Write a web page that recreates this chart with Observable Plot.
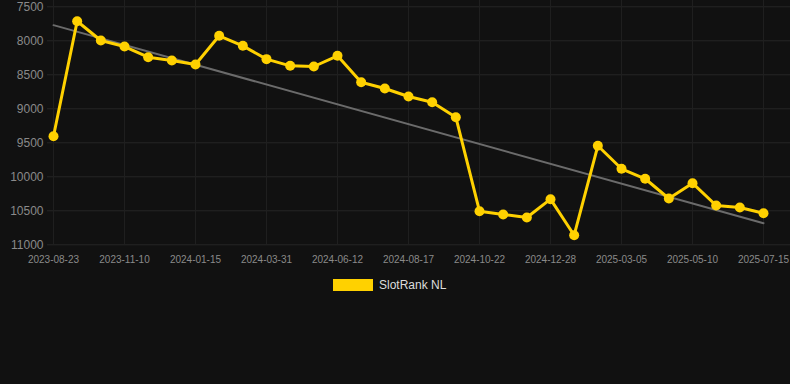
<!DOCTYPE html>
<html>
<head>
<meta charset="utf-8">
<script src="https://cdn.jsdelivr.net/npm/d3@7"></script>
<script src="https://cdn.jsdelivr.net/npm/@observablehq/plot@0.6"></script>
<style>
  html, body { margin: 0; padding: 0; background: #111111; }
  #wrap { position: relative; width: 790px; height: 384px; background: #111111; font-family: "Liberation Sans", Arial, Helvetica, sans-serif; }
  #legend { position: absolute; left: 333px; top: 278px; display: flex; align-items: center; }
  #legend .sw { width: 40px; height: 12px; background: #FFD100; }
  #legend .lb { margin-left: 6px; font-size: 12px; color: #dddddd; }
</style>
</head>
<body>
<div id="wrap">
  <div id="chart"></div>
  <div id="legend"><div class="sw"></div><div class="lb">SlotRank NL</div></div>
</div>
<script>
// Rank values (lower is better; axis reversed), one every ~3 weeks
const rankValues = [
  9403, 7712, 7996, 8084, 8241, 8290, 8349, 7926, 8074, 8270,
  8368, 8378, 8221, 8609, 8701, 8819, 8903, 9123, 10506, 10554,
  10598, 10329, 10859, 9544, 9882, 10029, 10319, 10094, 10422, 10451,
  10535
];
// Tick labels shown every third observation
const tickLabels = [
  "2023-08-23", "2023-11-10", "2024-01-15", "2024-03-31", "2024-06-12",
  "2024-08-17", "2024-10-22", "2024-12-28", "2025-03-05", "2025-05-10",
  "2025-07-15"
];
const yTicks = [7500, 8000, 8500, 9000, 9500, 10000, 10500, 11000];
// Trend line endpoints (first and last observation)
const trendValues = [7770, 10682];

const seriesName = "SlotRank NL";
const data = rankValues.map((v, i) => ({i, v, series: seriesName}));
const lastIndex = rankValues.length - 1;
const trend = [{i: 0, v: trendValues[0]}, {i: lastIndex, v: trendValues[1]}];
const xTicks = tickLabels.map((_, k) => k * 3);

const chart = Plot.plot({
  width: 790,
  height: 270,
  marginLeft: 47,
  marginRight: 0,
  marginTop: 0,
  marginBottom: 26,
  style: {background: "#111111", fontFamily: "'Liberation Sans', Arial, Helvetica, sans-serif"},
  x: {type: "linear", domain: [0, lastIndex], range: [53, 763]},
  y: {domain: [7500, 11000], range: [6.3, 244.3]},
  marks: [
    Plot.gridY(yTicks, {stroke: "#262626", strokeOpacity: 1, strokeWidth: 1}),
    Plot.gridX(xTicks, {stroke: "#1f1f1f", strokeOpacity: 1, strokeWidth: 1}),
    Plot.axisY(yTicks, {tickSize: 0, tickPadding: 4, fontSize: 12, fill: "#8a8a8a", label: null,
      tickFormat: d => String(d)}),
    Plot.axisX(xTicks, {tickSize: 0, tickPadding: 11, fontSize: 10, fill: "#8a8a8a", label: null,
      tickFormat: d => tickLabels[d / 3]}),
    Plot.line(trend, {x: "i", y: "v", stroke: "#6b6b6b", strokeWidth: 2}),
    Plot.line(data, {x: "i", y: "v", stroke: "#FFD100", strokeWidth: 3, strokeLinejoin: "round"}),
    Plot.dot(data, {x: "i", y: "v", r: 5, fill: "#FFD100", stroke: "none"})
  ]
});
document.getElementById("chart").appendChild(chart);
</script>
</body>
</html>
